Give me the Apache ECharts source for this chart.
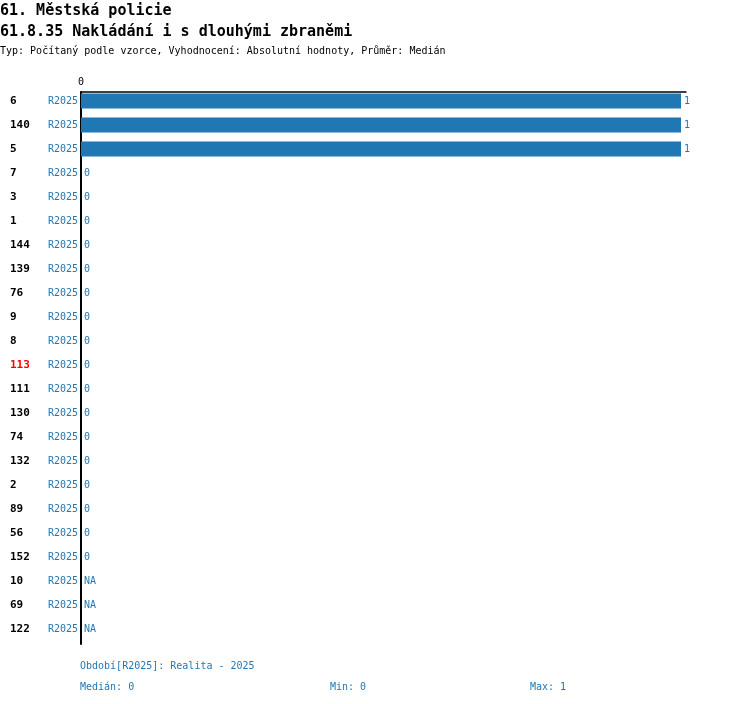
<!DOCTYPE html>
<html>
<head>
<meta charset="utf-8">
<script src="https://cdn.jsdelivr.net/npm/echarts@6/dist/echarts.min.js"></script>
<style>
  html, body { margin: 0; padding: 0; background: #fff; }
  #chart { width: 750px; height: 704px; }
</style>
</head>
<body>
<div id="chart"></div>
<script>
// units (row labels), top to bottom
const units = ['6', '140', '5', '7', '3', '1', '144', '139', '76', '9', '8', '113',
  '111', '130', '74', '132', '2', '89', '56', '152', '10', '69', '122'];
// period of each row
const periods = units.map(() => 'R2025');
// values, null = NA
const values = [1, 1, 1, 0, 0, 0, 0, 0, 0, 0, 0, 0, 0, 0, 0, 0, 0, 0, 0, 0, null, null, null];
const highlighted = ['113'];

const titleLines = ['61. Městská policie', '61.8.35 Nakládání i s dlouhými zbraněmi'];
const subtitle = 'Typ: Počítaný podle vzorce, Vyhodnocení: Absolutní hodnoty, Průměr: Medián';
const footer = ['Období[R2025]: Realita - 2025', 'Medián: 0', 'Min: 0', 'Max: 1'];

const mono = '"DejaVu Sans Mono", "Liberation Mono", monospace';
const blue = '#1f77b4';
const xMax = 605 / 600;

function txt(text, left, top, size, bold, color) {
  return {
    text: text, left: left, top: top, padding: 0,
    textStyle: { fontFamily: mono, fontSize: size, fontWeight: bold ? 'bold' : 'normal', color: color }
  };
}

let chart = echarts.init(document.getElementById('chart'));
chart.setOption({
  animation: false,
  textStyle: { fontFamily: mono },
  title: [
    txt(titleLines[0], 0, 4, 15, true, '#000'),
    txt(titleLines[1], 0, 25, 15, true, '#000'),
    txt(subtitle, 0, 46, 10, false, '#000'),
    txt(footer[0], 80, 661, 10, false, blue),
    txt(footer[1], 80, 682, 10, false, blue),
    txt(footer[2], 330, 682, 10, false, blue),
    txt(footer[3], 530, 682, 10, false, blue)
  ],
  grid: [
    { left: 81, top: 89, width: 605, height: 552 },
    { left: 81, top: 92, width: 605, height: 552 }
  ],
  xAxis: [
    { type: 'value', gridIndex: 0, min: 0, max: xMax, show: false },
    {
      type: 'value', gridIndex: 1, position: 'top', min: 0, max: xMax, interval: xMax,
      axisLine: { show: true, lineStyle: { color: '#000', width: 1.5 } },
      axisTick: { show: false },
      splitLine: { show: false },
      axisLabel: {
        margin: 5, fontFamily: mono, fontSize: 10, color: '#000',
        formatter: v => (v === 0 ? '0' : '')
      }
    }
  ],
  yAxis: [
    {
      type: 'category', gridIndex: 0, data: units, inverse: true,
      axisLine: { show: false }, axisTick: { show: false },
      axisLabel: {
        margin: 3, interval: 0,
        formatter: (v, i) => (highlighted.includes(v) ? '{hl|' + v + '}' : '{id|' + v + '}') + '{per|' + periods[i] + '}',
        rich: {
          id: { fontFamily: mono, fontSize: 11, fontWeight: 'bold', color: '#000', width: 37, align: 'left' },
          hl: { fontFamily: mono, fontSize: 11, fontWeight: 'bold', color: '#ff0000', width: 37, align: 'left' },
          per: { fontFamily: mono, fontSize: 10, color: blue, width: 31, align: 'right' }
        }
      }
    },
    {
      type: 'category', gridIndex: 1, data: units, inverse: true,
      axisLine: { show: true, onZero: false, lineStyle: { color: '#000', width: 2 } },
      axisTick: { show: false }, axisLabel: { show: false }
    }
  ],
  series: [
    {
      type: 'bar',
      xAxisIndex: 0, yAxisIndex: 0,
      barWidth: 15,
      itemStyle: { color: blue },
      data: values.map(v => (v === null ? 0 : v)),
      label: {
        show: true, position: 'right', distance: 3,
        fontFamily: mono, fontSize: 10, color: blue,
        formatter: p => (values[p.dataIndex] === null ? 'NA' : String(values[p.dataIndex]))
      }
    }
  ]
});
</script>
</body>
</html>
